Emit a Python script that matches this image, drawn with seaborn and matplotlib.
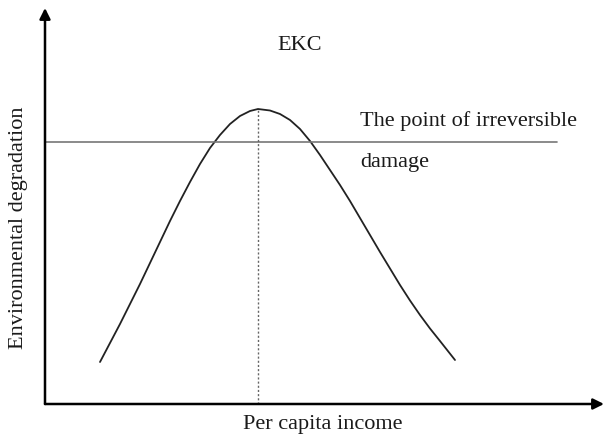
import matplotlib
matplotlib.use("Agg")
import pandas as pd
import matplotlib.pyplot as plt
import seaborn as sns

# EKC curve, values (arbitrary units)
income = [5.5, 6.5, 7.5, 8.5, 9.5, 10.5, 11.5, 12.5, 13.5, 14.5, 15.5, 16.5,
          17.5, 18.5, 19.5, 20.5, 21.3, 22.5, 23.5, 24.5, 25.5, 26.5, 27.5,
          28.5, 29.5, 30.5, 31.5, 32.5, 33.5, 34.5, 35.5, 36.5, 37.5, 38.5,
          39.5, 41.0]
degradation = [4.2, 6.1, 8.0, 10.0, 12.0, 14.1, 16.2, 18.3, 20.3, 22.2, 24.0,
               25.6, 26.9, 28.0, 28.8, 29.3, 29.5, 29.35, 29.0, 28.4, 27.5,
               26.3, 24.9, 23.4, 21.9, 20.3, 18.6, 16.9, 15.2, 13.55, 11.9,
               10.35, 8.9, 7.55, 6.3, 4.4]
threshold = 26.2
threshold_end = 51.2
peak_income = 21.3
peak_level = 29.5
x_max = 55.9
y_max = 39.6

df = pd.DataFrame({"income": income, "degradation": degradation})

sns.set_style("white")
plt.rcParams["font.family"] = ["Liberation Serif", "DejaVu Serif"]

fig = plt.figure(figsize=(6.04, 4.37), dpi=100)
ax = fig.add_axes([45 / 604, 33 / 437, 559 / 604, 396 / 437])

sns.lineplot(data=df, x="income", y="degradation", ax=ax, color="#222222",
             linewidth=1.3, sort=False)

# point of irreversible damage
ax.plot([0, threshold_end], [threshold, threshold], color="#777777", linewidth=1.2)
# turning point
ax.plot([peak_income, peak_income], [0, peak_level], color="#666666",
        linewidth=1.0, linestyle=(0, (1.5, 1.5)))

ax.set_xlim(0, x_max)
ax.set_ylim(0, y_max)
ax.set_xticks([])
ax.set_yticks([])
ax.set_xlabel("")
ax.set_ylabel("")
for s in ax.spines.values():
    s.set_visible(False)

# axes with arrows
arrow = dict(arrowstyle="-|>", color="black", lw=1.8, mutation_scale=16,
             shrinkA=0, shrinkB=0)
ax.annotate("", xy=(1.0, 0), xytext=(0, 0), xycoords="axes fraction",
            arrowprops=arrow, annotation_clip=False)
ax.annotate("", xy=(0, 1.0), xytext=(0, 0), xycoords="axes fraction",
            arrowprops=arrow, annotation_clip=False)

txt = dict(color="#1a1a1a", fontsize=16)
ax.text(25.5, 35.9, "EKC", ha="center", va="center", **txt)
ax.text(31.5, 28.3, "The point of irreversible", ha="left", va="center", **txt)
ax.text(31.5, 24.2, "damage", ha="left", va="center", **txt)

ax.text(0.497, -0.053, "Per capita income", transform=ax.transAxes,
        ha="center", va="center", clip_on=False, **txt)
ax.text(-0.048, 0.444, "Environmental degradation", transform=ax.transAxes,
        ha="center", va="center", rotation=90, clip_on=False, **txt)

fig.savefig("out.png", dpi=100)
